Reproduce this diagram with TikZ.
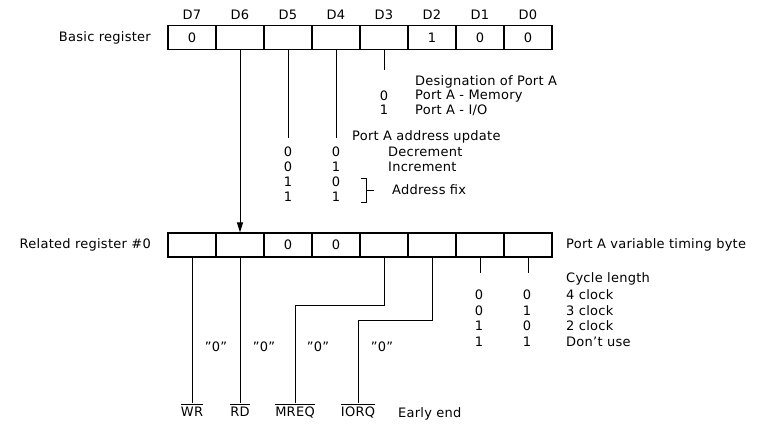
\documentclass[tikz,border=0pt]{standalone}
\usepackage{fontspec}
\setmainfont{DejaVu Sans}[LetterSpace=2]
\usetikzlibrary{arrows.meta}
\newcommand\sigbar[1]{\leavevmode\vbox{\hrule height 0.8pt\kern1.6pt\hbox{#1}}}

\begin{document}
\begin{tikzpicture}[
  x=1pt, y=-1pt,
  font=\fontsize{13}{15}\selectfont,
  cell/.style={draw, line width=1.2pt, minimum width=48pt, minimum height=24pt, inner sep=0pt},
  lbl/.style={anchor=west, inner sep=0pt},
  regname/.style={anchor=east, inner sep=0pt},
  num/.style={inner sep=0pt},
  sig/.style={anchor=north, inner sep=1pt},
  wire/.style={line width=1pt},
  arr/.style={wire, -{Triangle[length=10pt, width=6pt]}}
]
\useasboundingbox (0,0) rectangle (764,424);
\def\yB{37.5}
\def\yR{245}

% registers
\node[regname] (basic) at (151,\yB) {Basic register};
\node[regname] (related) at (151,\yR) {Related register \#0};
\foreach \i/\v/\w in {7/0/{}, 6/{}/{}, 5/{}/0, 4/{}/0, 3/{}/{}, 2/1/{}, 1/0/{}, 0/0/{}} {
  \node (h\i) at ({192+(7-\i)*48}, 15) {D\i};
  \node[cell] (b\i) at ({192+(7-\i)*48}, \yB) {\v};
  \node[cell] (r\i) at ({192+(7-\i)*48}, \yR) {\w};
}
\node[lbl] (timing) at (566,\yR) {Port A variable timing byte};

% basic register fields
\coordinate (e3) at (384,70);
\coordinate (e5) at (288,138);
\coordinate (e4) at (336,138);
\node[lbl] (desig) at (415,82) {Designation of Port A};
\node[num] (d3a) at (384,96) {0};
\node[lbl] (mem) at (415,96) {Port A - Memory};
\node[num] (d3b) at (384,110) {1};
\node[lbl] (io) at (415,110) {Port A - I/O};

\node[lbl] (update) at (352,137) {Port A address update};
\foreach \a/\b/\y in {0/0/152, 0/1/167, 1/0/182, 1/1/197} {
  \node[num] (u5\y) at (288,\y) {\a};
  \node[num] (u4\y) at (336,\y) {\b};
}
\node[lbl] (dec) at (388,152) {Decrement};
\node[lbl] (inc) at (388,167) {Increment};
\node[lbl] (fix) at (392,190) {Address fix};

% related register fields
\coordinate (e1) at (480,273);
\coordinate (e0) at (528,273);
\node[lbl] (cycle) at (566,279) {Cycle length};
\foreach \a/\b/\t/\y in {0/0/4 clock/295, 0/1/3 clock/311, 1/0/2 clock/326, 1/1/Don't use/342} {
  \node[num] (c1\y) at (479,\y) {\a};
  \node[num] (c0\y) at (527,\y) {\b};
  \node[lbl] (ct\y) at (566,\y) {\t};
}

\node[sig] (wr) at (192,403) {\sigbar{WR}};
\node[sig] (rd) at (240,403) {\sigbar{RD}};
\node[sig] (mreq) at (295,403) {\sigbar{MREQ}};
\node[sig] (iorq) at (358,403) {\sigbar{IORQ}};
\node[anchor=base west, inner sep=0pt] (early) at (398,417) {Early end};
\node[num] (q7) at (216,347) {"0"};
\node[num] (q6) at (264,347) {"0"};
\node[num] (q3) at (318,347) {"0"};
\node[num] (q2) at (382,347) {"0"};

% connectors
\draw[arr] (b6.south) -- (r6.north);
\draw[wire] (b5.south) -- (e5);
\draw[wire] (b4.south) -- (e4);
\draw[wire] (b3.south) -- (e3);
\draw[wire] (361,178) -- (366,178) -- (366,202) -- (361,202);
\draw[wire] (366,190) -- (374,190);
\draw[wire] (r7.south) -- (wr.north);
\draw[wire] (r6.south) -- (rd.north);
\draw[wire] (r3.south) -- ++(0,48) -| (mreq.north);
\draw[wire] (r2.south) -- ++(0,63) -| (iorq.north);
\draw[wire] (r1.south) -- (e1);
\draw[wire] (r0.south) -- (e0);
\end{tikzpicture}
\end{document}
